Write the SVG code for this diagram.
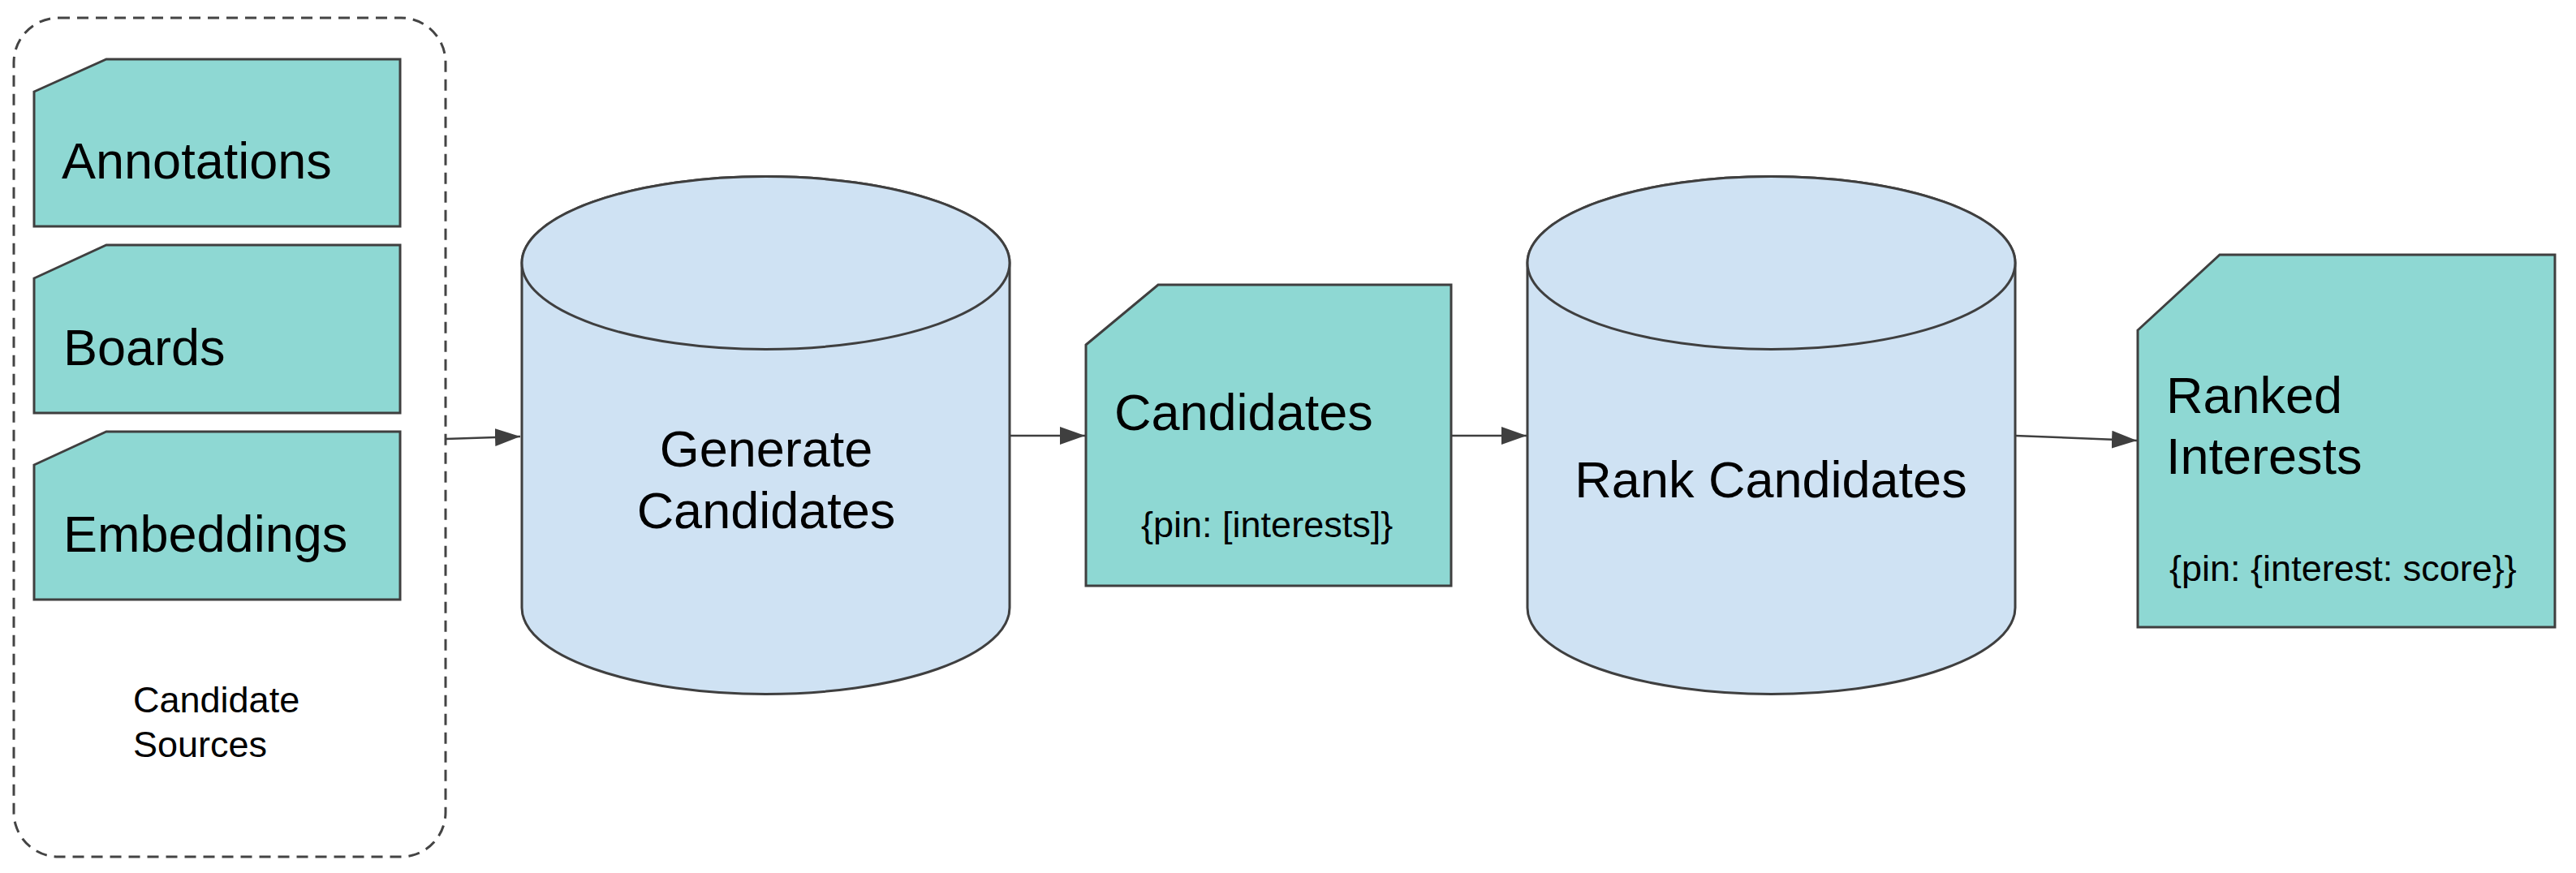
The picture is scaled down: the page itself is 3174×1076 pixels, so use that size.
<svg xmlns="http://www.w3.org/2000/svg" width="3174" height="1076" viewBox="0 0 3174 1076">
<defs>
<style>
.doc{fill:#8ed8d3;stroke:#3f3f3f;stroke-width:3;stroke-linejoin:miter}
.cyl{fill:#cfe2f3;stroke:#3f3f3f;stroke-width:3}
.big{font-family:"Liberation Sans",Arial,sans-serif;font-size:63px;fill:#000}
.small{font-family:"Liberation Sans",Arial,sans-serif;font-size:45px;fill:#000}
.conn{stroke:#3f3f3f;stroke-width:2.5;fill:none;marker-end:url(#arr)}
</style>
<marker id="arr" markerWidth="31" markerHeight="22" refX="31" refY="11" orient="auto" markerUnits="userSpaceOnUse" viewBox="0 0 31 22">
<path d="M0,0 L31,11 L0,22 Z" fill="#3f3f3f"/>
</marker>
</defs>
<rect width="3174" height="1076" fill="#ffffff"/>

<g id="candidate-sources">
<rect x="17" y="22" width="532" height="1034" rx="55" ry="55" fill="none" stroke="#444" stroke-width="3" stroke-dasharray="14 9"/>
<text class="small" x="164" y="878">Candidate</text>
<text class="small" x="164" y="933">Sources</text>
</g>

<g id="annotations">
<path class="doc" d="M42,113 L131,73 L493,73 L493,279 L42,279 Z"/>
<text class="big" x="76" y="220">Annotations</text>
</g>
<g id="boards">
<path class="doc" d="M42,343 L131,302 L493,302 L493,509 L42,509 Z"/>
<text class="big" x="78" y="450">Boards</text>
</g>
<g id="embeddings">
<path class="doc" d="M42,573 L131,532 L493,532 L493,739 L42,739 Z"/>
<text class="big" x="78" y="680">Embeddings</text>
</g>

<g id="generate-candidates">
<path class="cyl" d="M643,324 A300.5,106.5 0 0 1 1244,324 L1244,749 A300.5,106.5 0 0 1 643,749 Z"/>
<ellipse class="cyl" cx="943.5" cy="324" rx="300.5" ry="106.5"/>
<text class="big" x="944" y="575" text-anchor="middle">Generate</text>
<text class="big" x="944" y="651" text-anchor="middle">Candidates</text>
</g>

<g id="candidates">
<path class="doc" d="M1338,425 L1427,351 L1788,351 L1788,722 L1338,722 Z"/>
<text class="big" x="1373" y="530">Candidates</text>
<text class="small" x="1406" y="662">{pin: [interests]}</text>
</g>

<g id="rank-candidates">
<path class="cyl" d="M1882,324 A300.5,106.5 0 0 1 2483,324 L2483,749 A300.5,106.5 0 0 1 1882,749 Z"/>
<ellipse class="cyl" cx="2182.5" cy="324" rx="300.5" ry="106.5"/>
<text class="big" x="2182" y="613" text-anchor="middle">Rank Candidates</text>
</g>

<g id="ranked-interests">
<path class="doc" d="M2634,407 L2735,314 L3148,314 L3148,773 L2634,773 Z"/>
<text class="big" x="2669" y="509">Ranked</text>
<text class="big" x="2669" y="584">Interests</text>
<text class="small" x="2673" y="716">{pin: {interest: score}}</text>
</g>

<g id="connectors">
<path class="conn" d="M549,541 L641,538"/>
<path class="conn" d="M1244,537 L1337,537"/>
<path class="conn" d="M1788,537 L1881,537"/>
<path class="conn" d="M2483,537 L2633,543"/>
</g>
</svg>
